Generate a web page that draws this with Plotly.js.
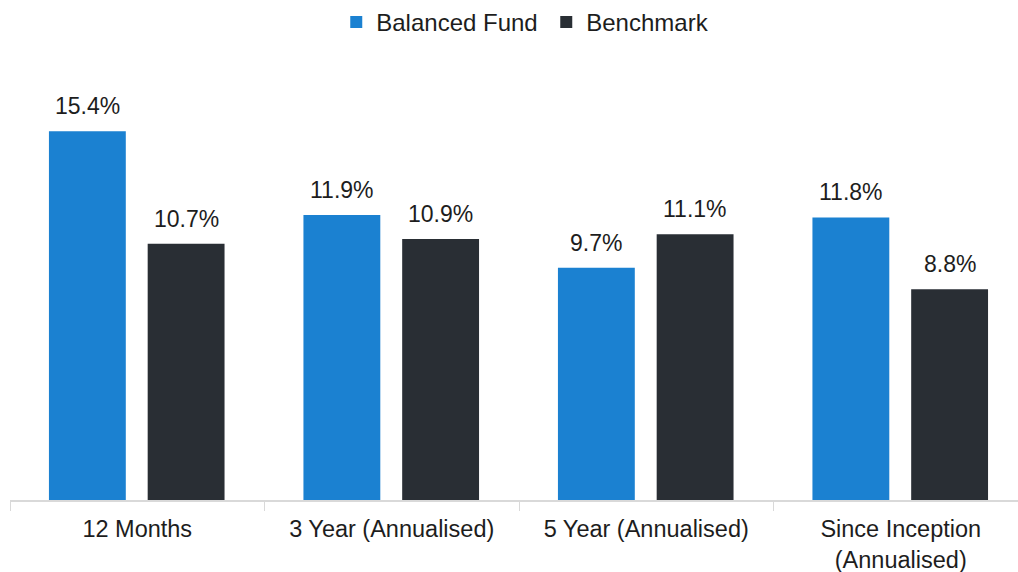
<!DOCTYPE html>
<html>
<head>
<meta charset="utf-8">
<script src="https://cdn.plot.ly/plotly-3.0.1.min.js"></script>
<style>
  html, body { margin: 0; padding: 0; background: #fff; }
  #chart { width: 1018px; height: 572px; }
</style>
</head>
<body>
<div id="chart"></div>
<script>
const categories = ['12 Months', '3 Year (Annualised)', '5 Year (Annualised)', 'Since Inception<br>(Annualised)'];
const fundValues = [15.4, 11.9, 9.7, 11.8];
const benchValues = [10.7, 10.9, 11.1, 8.8];

const fontFamily = '"Liberation Sans", Arial, sans-serif';
const textColor = '#1d1d1d';
const fundColor = '#1b81d1';
const benchColor = '#292e34';

const barWidth = 0.302;
const fundOffset = -0.347;
const benchOffset = 0.041;

const fundTrace = {
    x: categories,
    y: fundValues,
    type: 'bar',
    name: 'Balanced Fund',
    width: barWidth,
    offset: fundOffset,
    marker: {color: fundColor},
    hoverinfo: 'skip'
};

const benchTrace = {
    x: categories,
    y: benchValues,
    type: 'bar',
    name: 'Benchmark',
    width: barWidth,
    offset: benchOffset,
    marker: {color: benchColor},
    hoverinfo: 'skip'
};

// value labels above the bars
const labels = [];
fundValues.forEach((v, i) => labels.push({
    x: i + fundOffset + barWidth / 2, y: v, text: v.toFixed(1) + '%'
}));
benchValues.forEach((v, i) => labels.push({
    x: i + benchOffset + barWidth / 2, y: v, text: v.toFixed(1) + '%'
}));
const annotations = labels.map(a => ({
    xref: 'x', yref: 'y', x: a.x, y: a.y, text: a.text,
    showarrow: false, yanchor: 'bottom', yshift: 10,
    font: {family: fontFamily, size: 23, color: textColor}
}));

const layout = {
    width: 1018,
    height: 572,
    barmode: 'overlay',
    showlegend: true,
    legend: {
        orientation: 'h',
        x: 0.532, xanchor: 'center',
        y: 1, yanchor: 'top', yref: 'container',
        font: {family: fontFamily, size: 24, color: textColor},
        itemwidth: 30,
        entrywidth: 165
    },
    xaxis: {
        type: 'category',
        range: [-0.5, -0.5 + 1008 / 254.5],
        tickson: 'boundaries',
        ticks: 'outside',
        ticklen: 9,
        tickcolor: '#d9d9d9',
        showline: true,
        linecolor: '#d9d9d9',
        linewidth: 2,
        showgrid: false,
        ticklabelstandoff: 7,
        tickfont: {family: fontFamily, size: 23.5, color: textColor},
        fixedrange: true
    },
    yaxis: {
        range: [0, 17.5],
        visible: false,
        showgrid: false,
        zeroline: false,
        fixedrange: true
    },
    annotations: annotations,
    margin: {t: 81, b: 72, l: 10, r: 0},
    paper_bgcolor: '#ffffff',
    plot_bgcolor: '#ffffff'
};

Plotly.newPlot('chart', [fundTrace, benchTrace], layout, {displayModeBar: false, staticPlot: true});
</script>
</body>
</html>
